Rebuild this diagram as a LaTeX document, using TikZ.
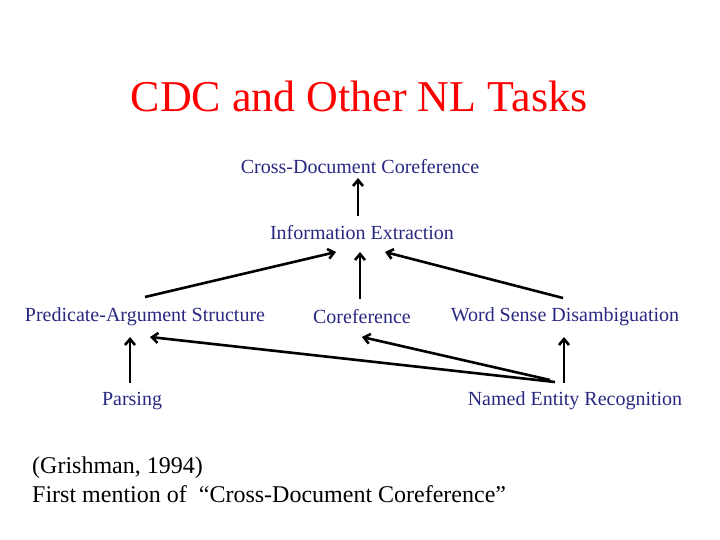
\documentclass[tikz,border=0pt]{standalone}
\usepackage{fontspec}
\setmainfont{Liberation Serif}
\usetikzlibrary{arrows.meta}
\definecolor{lab}{RGB}{40,40,130}
\begin{document}
\begin{tikzpicture}[x=1pt,y=-1pt,
  lbl/.style={text=lab,font=\fontsize{20}{22}\selectfont,inner sep=0pt},
  arr/.style={-{Straight Barb[length=6pt,width=10pt]},line width=2.6pt}]
\useasboundingbox (0,0) rectangle (720,540);
\node[text=red,font=\fontsize{44}{48}\selectfont,inner sep=0pt] (title) at (359,96) {CDC and Other NL Tasks};
\node[lbl] (cdc) at (360,167) {Cross-Document Coreference};
\node[lbl] (ie) at (362,233) {Information Extraction};
\node[lbl] (pas) at (145,317) {Predicate-Argument Structure};
\node[lbl] (cor) at (362,317) {Coreference};
\node[lbl] (wsd) at (565,317) {Word Sense Disambiguation};
\node[lbl] (par) at (132,401) {Parsing};
\node[lbl] (ner) at (575,401) {Named Entity Recognition};
\node[font=\fontsize{24}{29}\selectfont,align=left,anchor=north west,inner sep=0pt] (cite) at (32,457) {(Grishman, 1994)\\First mention of \ “Cross-Document Coreference”};
\coordinate (a1) at (358,216); \coordinate (b1) at (358,178);
\coordinate (a2) at (145,297); \coordinate (b2) at (336,252);
\coordinate (a3) at (360,299); \coordinate (b3) at (360,252);
\coordinate (a4) at (563,298); \coordinate (b4) at (385,252);
\coordinate (a5) at (130,383); \coordinate (b5) at (130,337);
\coordinate (a6) at (555,382); \coordinate (b6) at (150,337);
\coordinate (a7) at (550,380); \coordinate (b7) at (362,337);
\coordinate (a8) at (564,383); \coordinate (b8) at (564,337);
\foreach \i in {1,...,8} \draw[arr] (a\i) -- (b\i);
\end{tikzpicture}
\end{document}
